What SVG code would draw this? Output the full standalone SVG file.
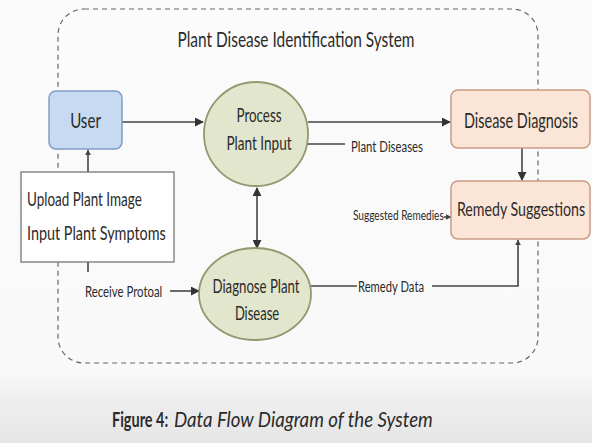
<svg xmlns="http://www.w3.org/2000/svg" width="592" height="443" viewBox="0 0 592 443">
<defs>
<linearGradient id="bg" x1="0" y1="0" x2="0" y2="1">
<stop offset="0" stop-color="#fbfbfb"/>
<stop offset="0.84" stop-color="#f9f9f9"/>
<stop offset="0.9" stop-color="#eeeeee"/>
<stop offset="1" stop-color="#e6e6e6"/>
</linearGradient>
<marker id="ah" viewBox="0 0 10 10" refX="9" refY="5" markerWidth="9" markerHeight="9" markerUnits="userSpaceOnUse" orient="auto-start-reverse">
<path d="M0,0 L10,5 L0,10 z" fill="#333"/>
</marker>
<marker id="ahs" viewBox="0 0 10 10" refX="9" refY="5" markerWidth="6" markerHeight="6" markerUnits="userSpaceOnUse" orient="auto">
<path d="M0,0 L10,5 L0,10 z" fill="#444"/>
</marker>
</defs>
<style>
text{font-family:Lato,"Open Sans","Liberation Sans",sans-serif;fill:#2b2b2b;}
.lbl{font-size:15px;}
.ln{stroke:#444;stroke-width:1.6;fill:none;}
.user{fill:#c8daf1;stroke:#7f9dc6;stroke-width:1.5;}
.proc{fill:#e2e6cd;stroke:#8f9a70;stroke-width:1.8;}
.out{fill:#fbe5d6;stroke:#c99b85;stroke-width:1.5;}
</style>
<rect x="0" y="0" width="592" height="443" fill="url(#bg)"/>
<rect id="boundary" x="58" y="9" width="480" height="354" rx="26" fill="none" stroke="#666" stroke-width="1.2" stroke-dasharray="5,4"/>
<text transform="translate(296,47) scale(0.75,1)" text-anchor="middle" font-size="21" textLength="316" lengthAdjust="spacingAndGlyphs">Plant Disease Identification System</text>

<g id="connectors">
<line class="ln" x1="122" y1="122" x2="203" y2="122" marker-end="url(#ah)"/>
<line class="ln" x1="88" y1="172" x2="88" y2="150" marker-end="url(#ahs)"/>
<line class="ln" x1="88" y1="262" x2="88" y2="272"/>
<line class="ln" x1="170" y1="291" x2="199" y2="291" marker-end="url(#ah)"/>
<line class="ln" x1="257" y1="188" x2="257" y2="248" marker-start="url(#ah)" marker-end="url(#ah)"/>
<line class="ln" x1="308" y1="122" x2="450" y2="122" marker-end="url(#ah)"/>
<line class="ln" x1="307" y1="144" x2="345" y2="144"/>
<line class="ln" x1="522" y1="148" x2="522" y2="180" marker-end="url(#ah)"/>
<line class="ln" x1="444" y1="217" x2="451" y2="217" marker-end="url(#ahs)"/>
<line class="ln" x1="311" y1="286" x2="357" y2="286"/>
<polyline class="ln" points="432,286 518,286 518,240" marker-end="url(#ahs)"/>
<text class="lbl" transform="translate(85,297) scale(0.75,1)" textLength="103" lengthAdjust="spacingAndGlyphs">Receive Protoal</text>
<text class="lbl" transform="translate(351,152) scale(0.75,1)" textLength="96" lengthAdjust="spacingAndGlyphs">Plant Diseases</text>
<text transform="translate(353,220) scale(0.75,1)" font-size="14" textLength="121" lengthAdjust="spacingAndGlyphs">Suggested Remedies</text>
<text class="lbl" transform="translate(358,292) scale(0.75,1)" textLength="88" lengthAdjust="spacingAndGlyphs">Remedy Data</text>
</g>

<g id="user">
<rect class="user" x="49" y="91" width="73" height="58" rx="7"/>
<text transform="translate(85.5,128) scale(0.75,1)" text-anchor="middle" font-size="22" textLength="41" lengthAdjust="spacingAndGlyphs">User</text>
</g>

<g id="inputs">
<rect x="21" y="172" width="153" height="90" fill="#fff" stroke="#777" stroke-width="1.3"/>
<text transform="translate(27,206) scale(0.75,1)" font-size="19" textLength="153" lengthAdjust="spacingAndGlyphs">Upload Plant Image</text>
<text transform="translate(27,240) scale(0.75,1)" font-size="19" textLength="185" lengthAdjust="spacingAndGlyphs">Input Plant Symptoms</text>
</g>

<g id="process">
<ellipse class="proc" cx="256" cy="134" rx="52" ry="52"/>
<text transform="translate(259,122) scale(0.75,1)" text-anchor="middle" font-size="19" textLength="60" lengthAdjust="spacingAndGlyphs">Process</text>
<text transform="translate(259,150) scale(0.75,1)" text-anchor="middle" font-size="19" textLength="87" lengthAdjust="spacingAndGlyphs">Plant Input</text>
</g>

<g id="diagnose">
<ellipse class="proc" cx="255" cy="294" rx="56" ry="46"/>
<text transform="translate(256,293) scale(0.75,1)" text-anchor="middle" font-size="19" textLength="116" lengthAdjust="spacingAndGlyphs">Diagnose Plant</text>
<text transform="translate(257,320) scale(0.75,1)" text-anchor="middle" font-size="19" textLength="59" lengthAdjust="spacingAndGlyphs">Disease</text>
</g>

<g id="disease-diagnosis">
<rect class="out" x="451" y="90" width="139" height="58" rx="7"/>
<text transform="translate(521,128) scale(0.75,1)" text-anchor="middle" font-size="21" textLength="152" lengthAdjust="spacingAndGlyphs">Disease Diagnosis</text>
</g>

<g id="remedy-suggestions">
<rect class="out" x="451" y="181" width="139" height="58" rx="7"/>
<text transform="translate(521,216) scale(0.75,1)" text-anchor="middle" font-size="20" textLength="171" lengthAdjust="spacingAndGlyphs">Remedy Suggestions</text>
</g>

<text transform="translate(112,427) scale(0.75,1)" font-size="21" font-weight="bold" textLength="75" lengthAdjust="spacingAndGlyphs">Figure 4:</text>
<text transform="translate(174,427) scale(0.75,1)" font-size="21" font-style="italic" textLength="345" lengthAdjust="spacingAndGlyphs">Data Flow Diagram of the System</text>
</svg>
